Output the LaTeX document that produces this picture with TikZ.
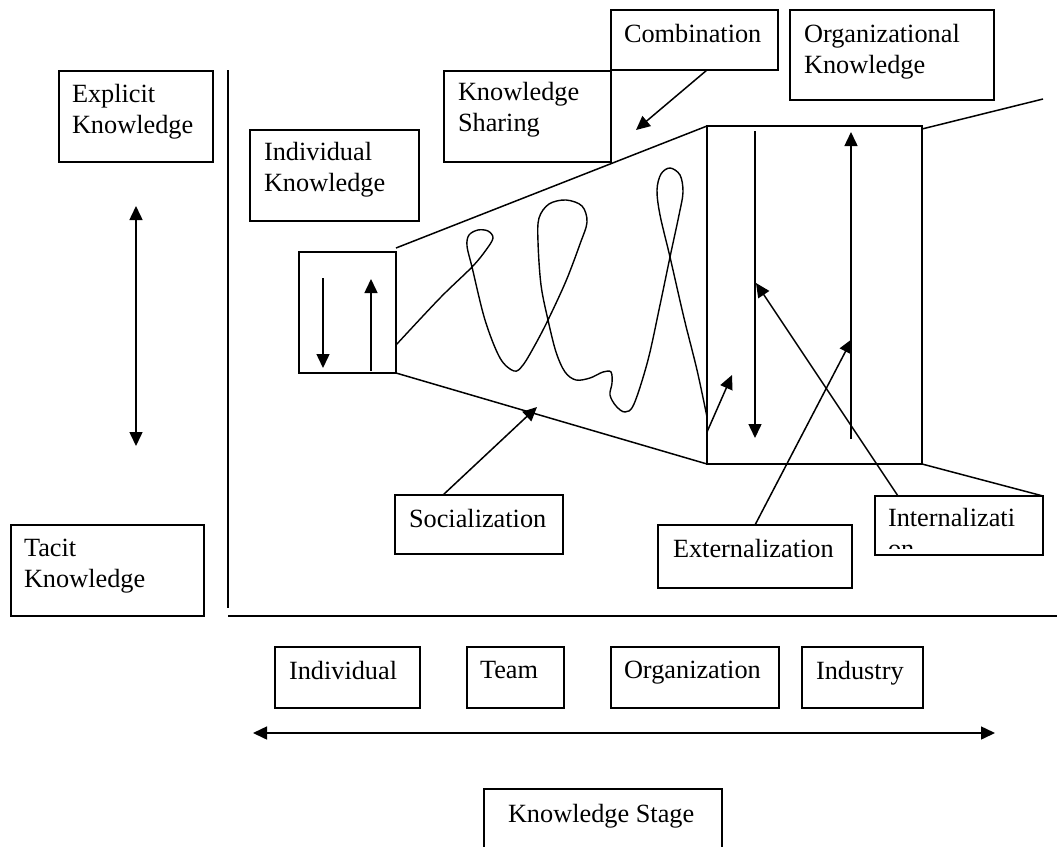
\documentclass[tikz,border=0pt]{standalone}
\usepackage{fontspec}
\setmainfont{Liberation Serif}
\usetikzlibrary{calc,arrows.meta}
\begin{document}
\begin{tikzpicture}[x=1pt,y=-1pt,line width=1.5pt,
  box/.style 2 args={draw, line width=1.5pt, inner sep=0pt, outer sep=0pt,
    anchor=north west, minimum width=#1, minimum height=#2},
  lbl/.style={inner sep=0pt, outer sep=0pt, anchor=north west, align=left,
    font=\fontsize{26.3}{31}\selectfont},
  tip/.style={-{Triangle[length=14pt,width=13pt]}},
  twotips/.style={{Triangle[length=14pt,width=13pt]}-{Triangle[length=14pt,width=13pt]}}]
\useasboundingbox (0,0) rectangle (1057,846);

% axes
\coordinate (vtop) at (228,70);
\coordinate (vbot) at (228,608);
\coordinate (hleft) at (228,616);
\coordinate (hright) at (1057,616);
\draw (vtop) -- (vbot);
\draw (hleft) -- (hright);

% knowledge type (vertical axis)
\node[box={154pt}{91pt}] (ek) at (59,71) {};
\node[lbl] (ekt) at ($(ek.north west)+(13,13)$) {Explicit\\Knowledge};
\node[box={193pt}{91pt}] (tk) at (11,525) {};
\node[lbl] (tkt) at ($(tk.north west)+(13,14)$) {Tacit\\Knowledge};
\coordinate (etop) at (136,206);
\coordinate (ebot) at (136,446);
\draw[twotips] (etop) -- (ebot);

% upper labels
\node[box={169pt}{91pt}] (ik) at (250,130) {};
\node[lbl] (ikt) at ($(ik.north west)+(14,12)$) {Individual\\Knowledge};
\node[box={167pt}{91pt}] (ks) at (444,71) {};
\node[lbl] (kst0) at ($(ks.north west)+(14,11)$) {Knowledge\\Sharing};
\node[box={167pt}{60pt}] (comb) at (611,10) {};
\node[lbl] (combt) at ($(comb.north west)+(13,14)$) {Combination};
\node[box={204pt}{90pt}] (ok) at (790,10) {};
\node[lbl] (okt) at ($(ok.north west)+(14,14)$) {Organizational\\Knowledge};

% the spiral funnel
\node[box={97pt}{121pt}] (sb) at (299,252) {};
\node[box={215pt}{338pt}] (big) at (707,126) {};
\draw ($(sb.north east)+(0,-4)$) -- (big.north west);
\draw (sb.south east) -- (big.south west);
\coordinate (ur) at (1043,99);
\draw ($(big.north east)+(0,3)$) -- (ur);

\draw[tip] ($(sb.north west)+(24,26)$) -- ($(sb.north west)+(24,116)$);
\draw[tip] ($(sb.north west)+(72,119)$) -- ($(sb.north west)+(72,27)$);
\draw[tip] ($(big.north west)+(48,5)$) -- ($(big.north west)+(48,312)$);
\draw[tip] ($(big.north west)+(144,313)$) -- ($(big.north west)+(144,6)$);

\draw[line width=1.4pt] plot[smooth, tension=0.55] coordinates {
  (396,345) (440,298) (472,267) (486,250) (493,238) (488,231) (478,230)
  (469,235) (467,246) (472,267) (485,320) (500,358) (514,371) (523,365)
  (535,345) (548,320) (566,281) (580,244) (587,222) (582,206) (566,200)
  (549,204) (539,218) (538,242) (541,285) (548,320) (556,352) (565,372)
  (576,380) (590,378) (603,372) (611,372) (612,383) (610,395) (616,406)
  (625,412) (634,404) (648,360) (660,305) (670,257) (679,215) (683,192)
  (680,175) (670,168) (661,174) (657,190) (660,215) (670,257) (684,318)
  (697,370) (707,417)};
\coordinate (smalltip) at (732,375);
\draw[tip] ($(big.north west)+(0,306)$) -- (smalltip);

% conversion modes
\coordinate (combtip) at (636,130);
\draw[tip] ($(comb.south west)+(96,0)$) -- (combtip);

\node[box={168pt}{59pt}] (soc) at (395,495) {};
\node[lbl] (soct) at ($(soc.north west)+(14,14)$) {Socialization};
\coordinate (soctip) at (537,407);
\draw[tip] ($(soc.north west)+(48,0)$) -- (soctip);

\node[box={194pt}{63pt}] (ext) at (658,525) {};
\node[lbl] (extt) at ($(ext.north west)+(15,14)$) {Externalization};
\coordinate (exttip) at (852,339);
\draw[tip] ($(ext.north west)+(97,0)$) -- (exttip);

\node[box={168pt}{59pt}] (intl) at (875,496) {};
\begin{scope}
  \clip (intl.north west) rectangle ($(intl.south east)+(0,-7)$);
  \node[lbl] (intlt) at ($(intl.north west)+(13,12)$) {Internalizati\\on};
\end{scope}
\coordinate (inttip) at (756,283);
\draw[tip] ($(intl.north west)+(23,0)$) -- (inttip);
\draw (big.south east) -- (intl.north east);

% knowledge stages (horizontal axis)
\node[box={145pt}{61pt}] (ind) at (275,647) {};
\node[lbl] (indt) at ($(ind.north west)+(14,14)$) {Individual};
\node[box={97pt}{61pt}] (team) at (467,647) {};
\node[lbl] (teamt) at ($(team.north west)+(13,14)$) {Team};
\node[box={168pt}{61pt}] (org) at (611,647) {};
\node[lbl] (orgt) at ($(org.north west)+(13,14)$) {Organization};
\node[box={121pt}{61pt}] (indus) at (802,647) {};
\node[lbl] (indust) at ($(indus.north west)+(14,14)$) {Industry};

\coordinate (aleft) at (253,733);
\coordinate (aright) at (995,733);
\draw[twotips] (aleft) -- (aright);

\node[box={238pt}{80pt}] (kst) at (484,789) {};
\node[lbl] (kstt) at ($(kst.north west)+(24,15)$) {Knowledge Stage};
\end{tikzpicture}
\end{document}
